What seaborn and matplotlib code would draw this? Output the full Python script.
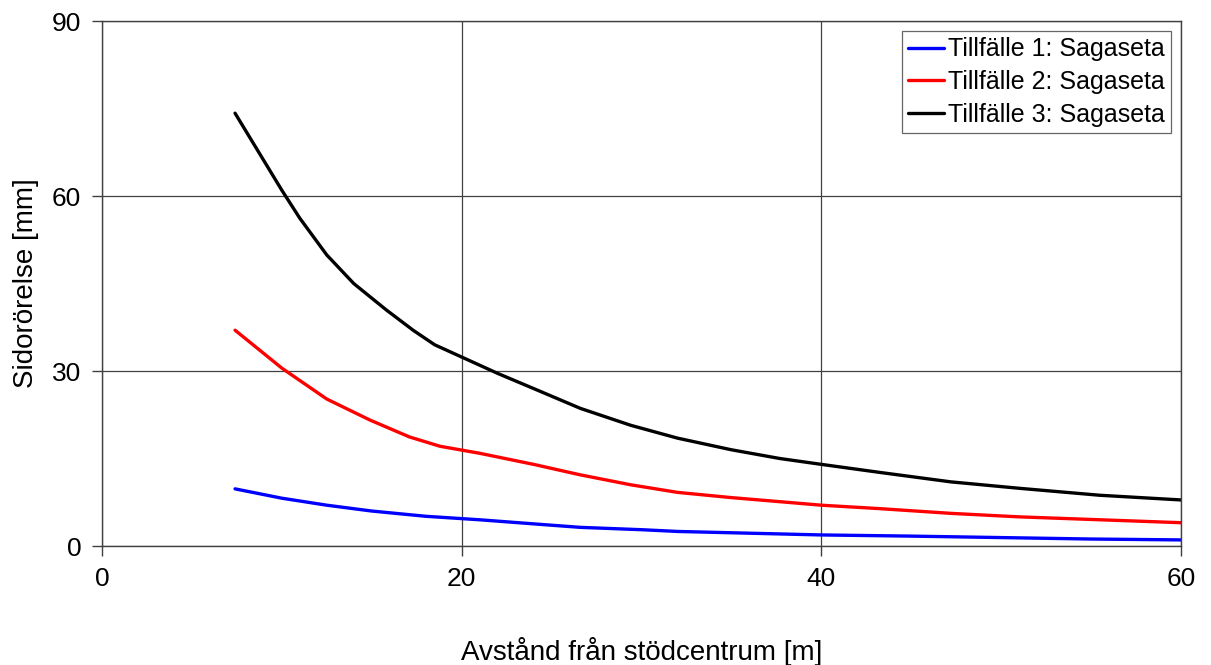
import matplotlib
matplotlib.use("Agg")
import matplotlib.pyplot as plt
import seaborn as sns
import pandas as pd

# values
x_t1 = [7.4, 10, 12.5, 15, 18, 21, 24, 26.6, 30, 32, 36, 40, 45, 51, 55, 60]
y_t1 = [9.8, 8.2, 7.0, 6.0, 5.1, 4.5, 3.8, 3.2, 2.8, 2.5, 2.2, 1.9, 1.7, 1.4, 1.2, 1.05]

x_t2 = [7.4, 10, 12.5, 14.9, 17.1, 18.8, 21, 24, 26.6, 29.4, 32, 35, 37.7, 40, 43.3, 47.2, 51, 55.5, 60]
y_t2 = [37.0, 30.5, 25.2, 21.6, 18.7, 17.1, 15.9, 14.0, 12.2, 10.5, 9.2, 8.3, 7.6, 7.0, 6.4, 5.6, 5.0, 4.5, 4.0]

x_t3 = [7.4, 10, 11, 12.5, 14, 15.8, 17.3, 18.5, 20, 22, 24, 26.6, 29.4, 32, 35, 37.7, 40, 43.3, 47.2, 51, 55.5, 60]
y_t3 = [74.2, 61.0, 56.2, 49.9, 45.0, 40.5, 37.0, 34.5, 32.4, 29.6, 27.0, 23.6, 20.7, 18.5, 16.5, 15.0, 14.0, 12.6, 11.0, 9.9, 8.7, 7.9]

labels = ["Tillfälle 1: Sagaseta", "Tillfälle 2: Sagaseta", "Tillfälle 3: Sagaseta"]
colors = ["#0000ff", "#ff0000", "#000000"]

df = pd.concat([
    pd.DataFrame({"x": x_t1, "y": y_t1, "serie": labels[0]}),
    pd.DataFrame({"x": x_t2, "y": y_t2, "serie": labels[1]}),
    pd.DataFrame({"x": x_t3, "y": y_t3, "serie": labels[2]}),
])

sns.set_style("white")
plt.rcParams["font.family"] = ["Liberation Sans", "DejaVu Sans"]
plt.rcParams["text.color"] = "black"
plt.rcParams["axes.labelcolor"] = "black"
plt.rcParams["xtick.color"] = "black"
plt.rcParams["ytick.color"] = "black"

fig = plt.figure(figsize=(12.11, 6.65), dpi=100)
ax = fig.add_axes([0.0842, 0.1789, 0.891, 0.7895])

sns.lineplot(data=df, x="x", y="y", hue="serie", palette=colors,
             linewidth=2.4, sort=False, estimator=None, ax=ax)

ax.set_xlim(0, 60)
ax.set_ylim(0, 90)
ax.set_xticks([0, 20, 40, 60])
ax.set_yticks([0, 30, 60, 90])
ax.grid(True, color="#404040", linewidth=0.9)
for s in ax.spines.values():
    s.set_color("#404040")
    s.set_linewidth(1.0)
ax.tick_params(axis="both", direction="out", length=7, width=1, color="#404040",
               labelsize=19, labelcolor="black", pad=8, bottom=True, left=True)

ax.set_xlabel("Avstånd från stödcentrum [m]", fontsize=20, labelpad=33)
ax.set_ylabel("Sidorörelse [mm]", fontsize=20, labelpad=9)

leg = ax.legend(loc="upper right", fontsize=18, frameon=True, fancybox=False,
                edgecolor="#404040", handlelength=1.45, handletextpad=0.15,
                borderpad=0.25, labelspacing=0.35, borderaxespad=0.4)
leg.get_frame().set_linewidth(0.9)

fig.savefig("out.png", dpi=100)
